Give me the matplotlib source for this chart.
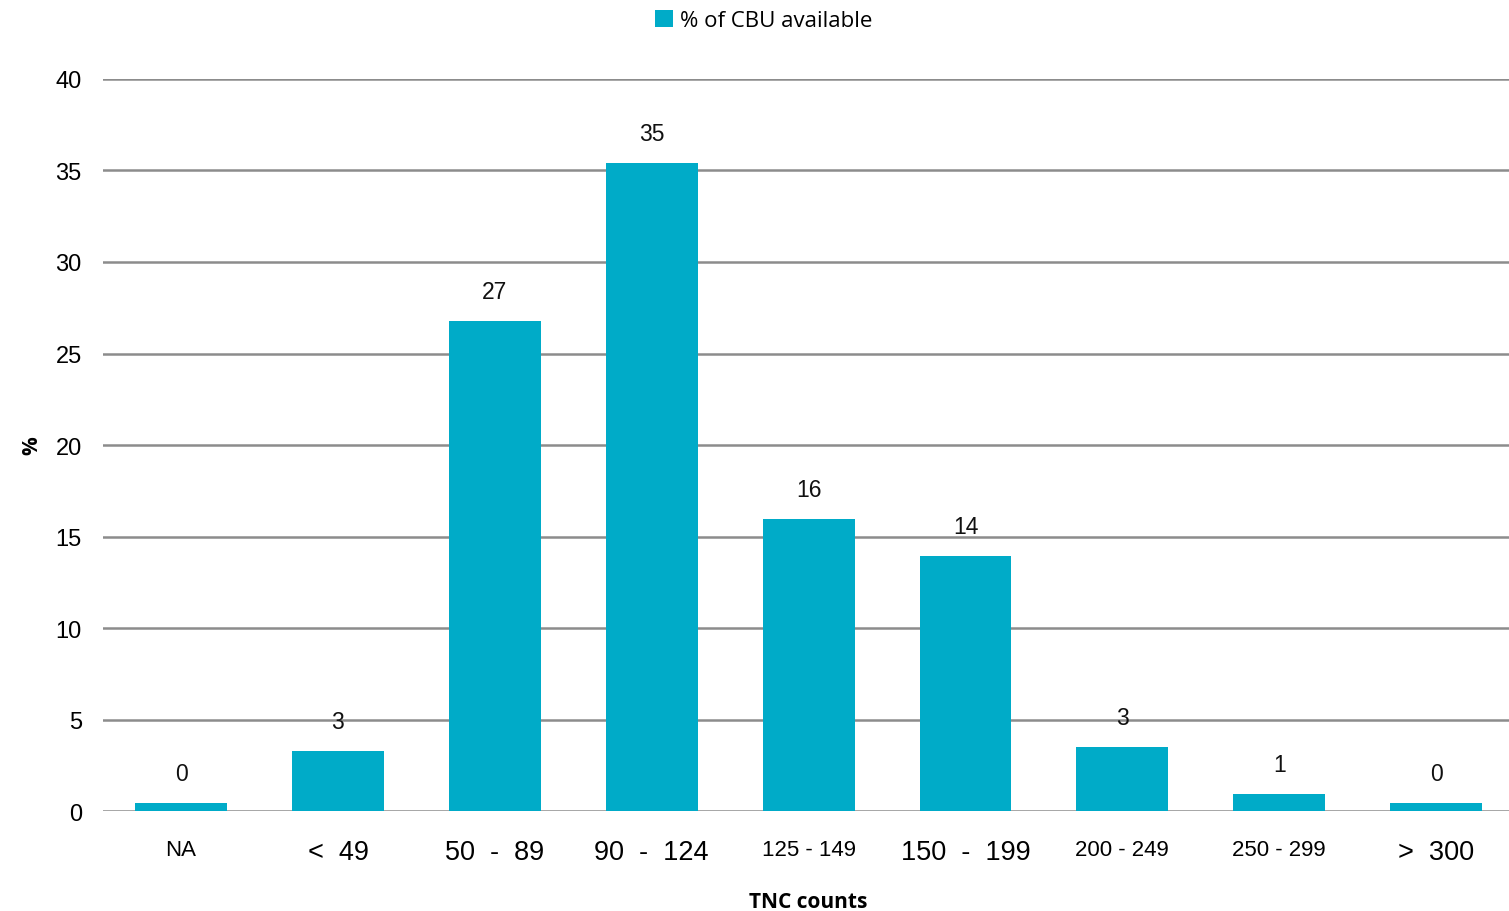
import matplotlib
matplotlib.use("Agg")
import matplotlib.pyplot as plt
import numpy as np

categories = ['NA', '<  49', '50  -  89', '90  -  124', '125 - 149', '150  -  199', '200 - 249', '250 - 299', '>  300']
bar_heights = [0.44, 3.28, 26.75, 35.4, 15.96, 13.93, 3.5, 0.93, 0.44]
value_labels = ['0', '3', '27', '35', '16', '14', '3', '1', '0']
big_labels = [False, True, True, True, False, True, False, False, True]

fig = plt.figure(figsize=(15.09, 9.12), dpi=100)
# the plot area runs a little past the right edge of the figure
ax = fig.add_axes([0.0680, 0.1096, 0.9357, 0.8027])

x = np.arange(len(categories))
bars = ax.bar(x, bar_heights, width=0.586, color='#00abc8', zorder=3,
              label='% of CBU available')

for xi, h, lbl in zip(x, bar_heights, value_labels):
    ax.text(xi, h + 1.0, lbl, ha='center', va='bottom', fontsize=16.5,
            family='Liberation Sans', color='#111111')

ax.set_xlim(-0.5, len(categories) - 0.5)
ax.set_ylim(0, 40)
ax.set_yticks(range(0, 41, 5))
ax.yaxis.grid(True, color='#8c8c8c', linewidth=1.8, zorder=0)
ax.set_axisbelow(True)
for s in ['top', 'right', 'left', 'bottom']:
    ax.spines[s].set_visible(False)
ax.tick_params(axis='both', length=0)
ax.tick_params(axis='y', pad=15, labelsize=17)
for t in ax.get_yticklabels():
    t.set_family('Liberation Sans')

ax.set_xticks(x)
ax.set_xticklabels(categories)
for t, big in zip(ax.get_xticklabels(), big_labels):
    t.set_family('Liberation Sans')
    t.set_fontsize(19.5 if big else 16)
ax.tick_params(axis='x', pad=20)

ax.set_xlabel('TNC counts', fontsize=15, fontweight='bold', family='Open Sans', labelpad=19)
ax.set_ylabel('%', fontsize=15, fontweight='bold', family='Open Sans')
ax.yaxis.set_label_coords(-0.043, 0.5)

leg = fig.legend(handles=[bars], labels=['% of CBU available'], loc='upper center',
                 bbox_to_anchor=(0.506, 1.01), frameon=False, handlelength=0.8,
                 handleheight=0.8, handletextpad=0.3,
                 prop={'family': 'Open Sans', 'size': 16})

fig.savefig('out.png', dpi=100)
